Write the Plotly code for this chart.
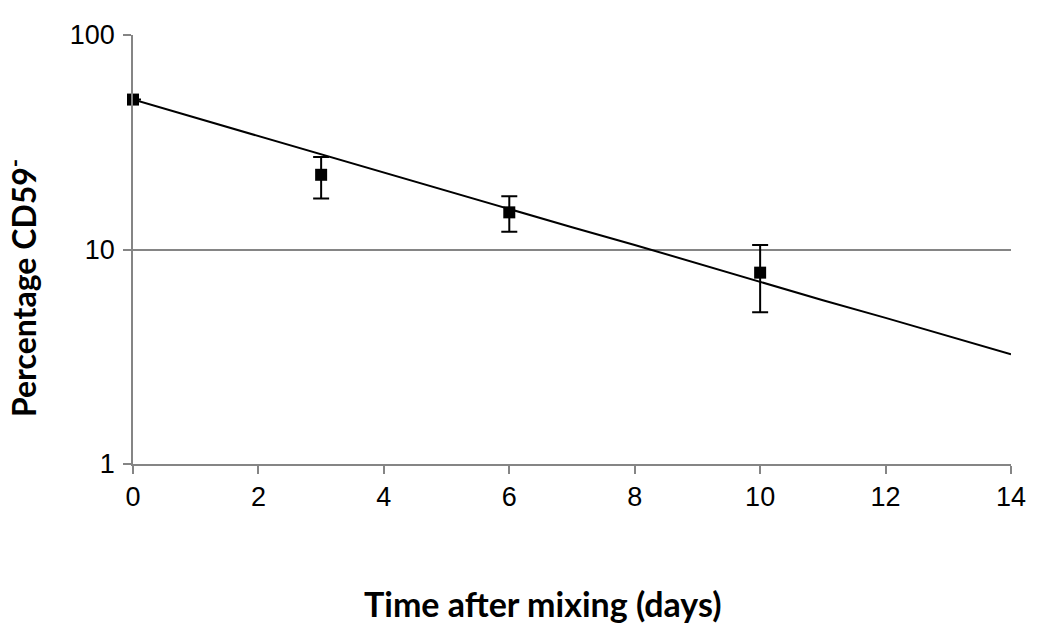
import plotly.graph_objects as go

# Measured data
days = [0, 3, 6, 10]
pct_cd59 = [50.0, 22.3, 14.9, 7.8]
err_plus = [0.0, 4.7, 2.8, 2.7]
err_minus = [0.0, 5.0, 2.8, 2.7]

# Fitted decay curve
fit_days = [0, 1, 2, 3, 4, 5, 6, 7, 8, 9, 10, 11, 12, 13, 14]
fit_pct = [50.0, 41.1, 33.8, 27.8, 22.9, 18.8, 15.4, 12.7, 10.5, 8.6, 7.1, 5.8, 4.8, 3.95, 3.25]

x_ticks = [0, 2, 4, 6, 8, 10, 12, 14]
y_ticks = [1, 10, 100]

fig = go.Figure()
fig.add_trace(go.Scatter(
    x=fit_days, y=fit_pct, mode="lines",
    line=dict(color="black", width=2), showlegend=False, hoverinfo="skip"))
fig.add_trace(go.Scatter(
    x=days, y=pct_cd59, mode="markers", cliponaxis=False,
    marker=dict(symbol="square", size=12, color="black"),
    error_y=dict(type="data", symmetric=False, array=err_plus, arrayminus=err_minus,
                 color="black", thickness=2, width=8),
    showlegend=False))

fig.update_layout(
    width=1042, height=628, autosize=False,
    margin=dict(l=125, r=39, t=22, b=172),
    paper_bgcolor="white", plot_bgcolor="white",
    font=dict(family="Arial", size=24, color="black"),
    xaxis=dict(range=[0, 14], tickvals=x_ticks, ticktext=[str(v) for v in x_ticks],
               showgrid=False, zeroline=False, showline=True, linecolor="#858585", linewidth=1.5,
               ticks="outside", ticklen=8, tickcolor="#858585", tickwidth=1.5,
               tickfont=dict(family="Arial", size=27, color="black")),
    yaxis=dict(type="log", range=[0, 2], tickvals=y_ticks, ticktext=[str(v) for v in y_ticks],
               showgrid=True, gridcolor="#858585", gridwidth=1.5,
               zeroline=False, showline=True, linecolor="#858585", linewidth=1.5,
               ticks="outside", ticklen=8, tickcolor="#858585", tickwidth=1.5,
               tickfont=dict(family="Arial", size=27, color="black"), ticklabelstandoff=3),
)

fig.add_annotation(text="<b>Time after mixing (days)</b>", xref="paper", yref="paper",
                   x=0.466, y=-0.325, xanchor="center", yanchor="middle", showarrow=False,
                   font=dict(family="Lato", size=34, color="black"))
fig.add_annotation(text="<b>Percentage CD59<sup>-</sup></b>", xref="paper", yref="paper",
                   x=-0.1265, y=0.41, xanchor="center", yanchor="middle", showarrow=False,
                   textangle=-90,
                   font=dict(family="Lato", size=32, color="black"))

fig.write_html("out.html")
